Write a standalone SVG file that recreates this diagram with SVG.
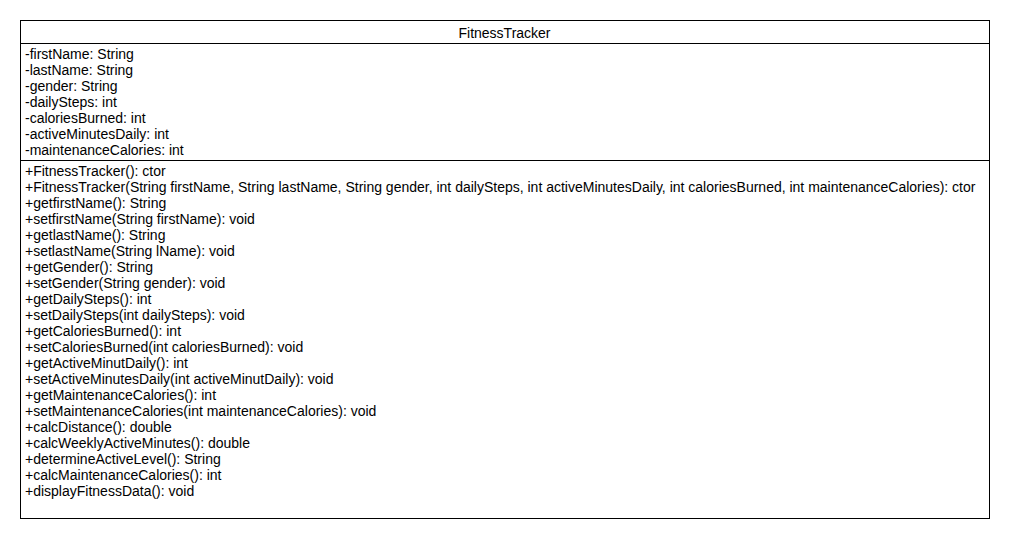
<svg xmlns="http://www.w3.org/2000/svg" width="1010" height="540" viewBox="0 0 1010 540">
<style>
text{font-family:"Liberation Sans",Arial,sans-serif;font-size:14px;fill:#000}
.sep{stroke:#000;stroke-width:1}
</style>
<rect x="0" y="0" width="1010" height="540" fill="#fff"/>
<g id="FitnessTracker">
<rect x="20.5" y="20.5" width="969" height="498" fill="#fff" stroke="#000" stroke-width="1"/>
<line class="sep" x1="20.5" y1="43.5" x2="989.5" y2="43.5"/>
<line class="sep" x1="20.5" y1="160.5" x2="989.5" y2="160.5"/>
<text x="504.5" y="38" text-anchor="middle">FitnessTracker</text>
<g id="attributes">
<text x="25" y="59">-firstName: String</text>
<text x="25" y="75">-lastName: String</text>
<text x="25" y="91">-gender: String</text>
<text x="25" y="107">-dailySteps: int</text>
<text x="25" y="123">-caloriesBurned: int</text>
<text x="25" y="139">-activeMinutesDaily: int</text>
<text x="25" y="155">-maintenanceCalories: int</text>
</g>
<g id="operations">
<text x="25" y="176">+FitnessTracker(): ctor</text>
<text x="25" y="192">+FitnessTracker(String firstName, String lastName, String gender, int dailySteps, int activeMinutesDaily, int caloriesBurned, int maintenanceCalories): ctor</text>
<text x="25" y="208">+getfirstName(): String</text>
<text x="25" y="224">+setfirstName(String firstName): void</text>
<text x="25" y="240">+getlastName(): String</text>
<text x="25" y="256">+setlastName(String lName): void</text>
<text x="25" y="272">+getGender(): String</text>
<text x="25" y="288">+setGender(String gender): void</text>
<text x="25" y="304">+getDailySteps(): int</text>
<text x="25" y="320">+setDailySteps(int dailySteps): void</text>
<text x="25" y="336">+getCaloriesBurned(): int</text>
<text x="25" y="352">+setCaloriesBurned(int caloriesBurned): void</text>
<text x="25" y="368">+getActiveMinutDaily(): int</text>
<text x="25" y="384">+setActiveMinutesDaily(int activeMinutDaily): void</text>
<text x="25" y="400">+getMaintenanceCalories(): int</text>
<text x="25" y="416">+setMaintenanceCalories(int maintenanceCalories): void</text>
<text x="25" y="432">+calcDistance(): double</text>
<text x="25" y="448">+calcWeeklyActiveMinutes(): double</text>
<text x="25" y="464">+determineActiveLevel(): String</text>
<text x="25" y="480">+calcMaintenanceCalories(): int</text>
<text x="25" y="496">+displayFitnessData(): void</text>
</g>
</g>
<g id="connectors"/>
</svg>
